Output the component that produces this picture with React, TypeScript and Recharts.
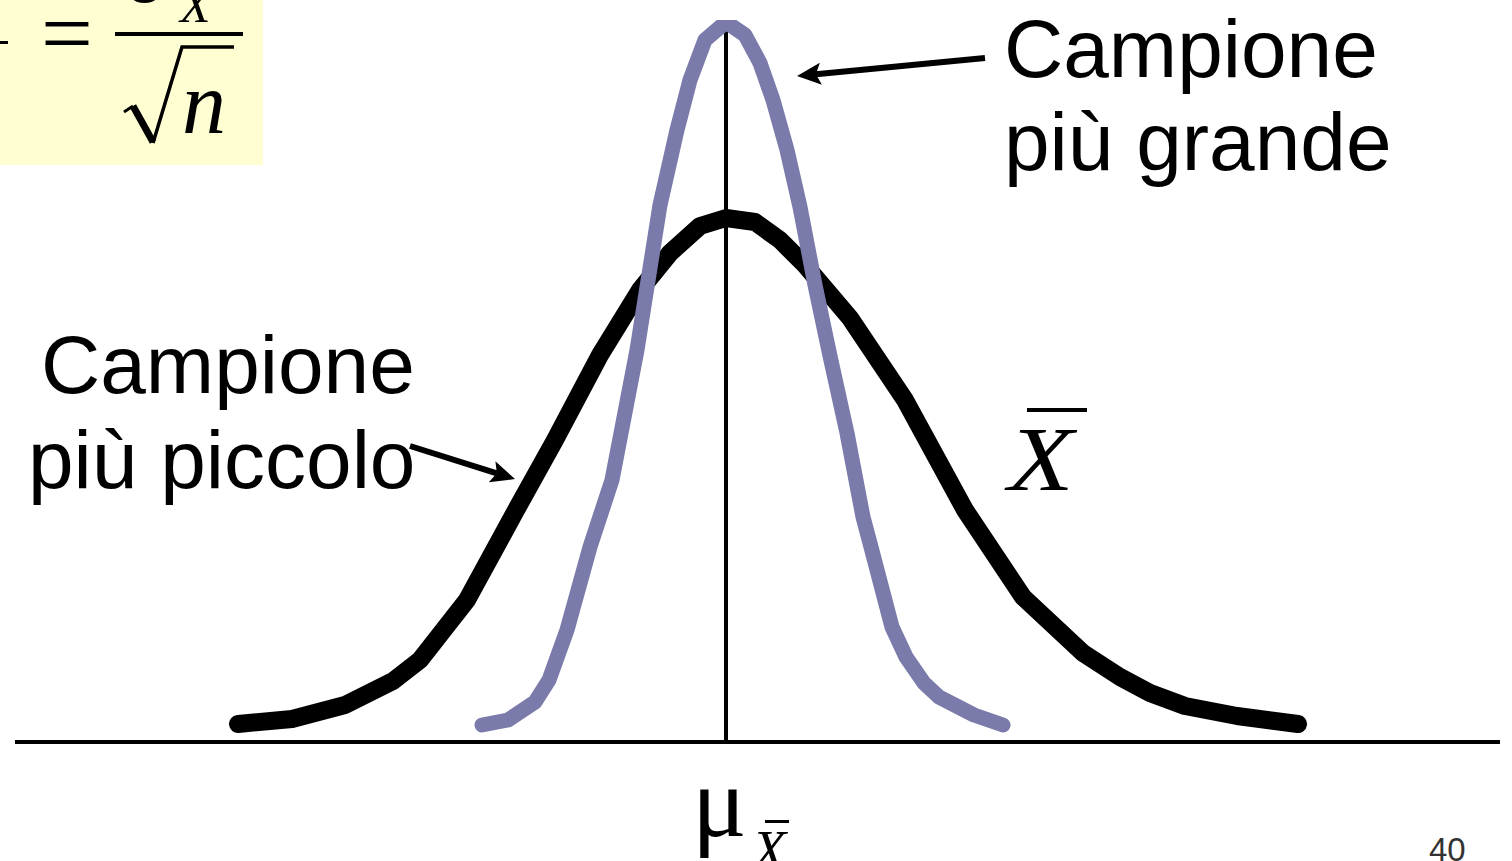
import React from 'react';
import { LineChart, Line, XAxis, YAxis, ReferenceLine, Customized } from 'recharts';

const WIDTH = 1512;
const HEIGHT = 861;

// Sampling distribution of the mean for the smaller sample (wider curve)
const smallSampleX = [
  -4.88, -4.34, -3.81, -3.33, -3.06, -2.59, -2.11, -1.71, -1.26, -0.86, -0.56, -0.26, 0,
  0.29, 0.54, 0.79, 1.24, 1.79, 2.39, 2.97, 3.57, 3.94, 4.24, 4.59, 5.11, 5.72,
];
const smallSampleY = [
  0.18, 0.23, 0.37, 0.61, 0.82, 1.42, 2.3, 3.02, 3.87, 4.52, 4.89, 5.16, 5.24,
  5.2, 5.02, 4.77, 4.24, 3.42, 2.32, 1.45, 0.89, 0.65, 0.49, 0.36, 0.26, 0.18,
];

// Sampling distribution of the mean for the larger sample (narrower curve)
const largeSampleX = [
  -2.44, -2.18, -1.91, -1.77, -1.59, -1.36, -1.14, -0.89, -0.66, -0.49, -0.36, -0.21, 0,
  0.19, 0.34, 0.47, 0.61, 0.74, 0.89, 1.04, 1.21, 1.37, 1.45, 1.66, 1.8, 1.98, 2.13, 2.48, 2.77,
];
const largeSampleY = [
  0.17, 0.22, 0.4, 0.62, 1.12, 1.95, 2.62, 3.92, 5.37, 6.12, 6.62, 7.02, 7.2,
  7.07, 6.79, 6.42, 5.92, 5.35, 4.57, 3.86, 3.09, 2.25, 1.95, 1.15, 0.85, 0.59, 0.45, 0.27, 0.17,
];

const xDomain: [number, number] = [-7.11, 7.74];
const yDomain: [number, number] = [0, 7.22];
const mean = 0;

// Callout arrows (tail -> head) in data units
const arrowLarge = [{ x: 2.59, y: 6.84 }, { x: 0.71, y: 6.66 }];
const arrowSmall = [{ x: -3.16, y: 2.96 }, { x: -2.11, y: 2.63 }];

const smallSample = smallSampleX.map((x, i) => ({ x, y: smallSampleY[i] }));
const largeSample = largeSampleX.map((x, i) => ({ x, y: largeSampleY[i] }));

const SANS = "'Liberation Sans', Arial, Helvetica, sans-serif";
const SERIF = "'Liberation Serif', 'Times New Roman', serif";

const Arrow = (props: any) => {
  const { x1, y1, x2, y2 } = props;
  const dx = x2 - x1;
  const dy = y2 - y1;
  const len = Math.hypot(dx, dy) || 1;
  const ux = dx / len;
  const uy = dy / len;
  const headLen = 24;
  const headW = 11;
  const bx = x2 - ux * headLen;
  const by = y2 - uy * headLen;
  const px = -uy;
  const py = ux;
  const notchX = x2 - ux * (headLen - 5);
  const notchY = y2 - uy * (headLen - 5);
  return (
    <g>
      <line x1={x1} y1={y1} x2={notchX} y2={notchY} stroke="#000" strokeWidth={6} />
      <polygon
        points={`${x2},${y2} ${bx + px * headW},${by + py * headW} ${notchX},${notchY} ${bx - px * headW},${by - py * headW}`}
        fill="#000"
      />
    </g>
  );
};

const Annotations = () => (
  <g>
    {/* formula box: sigma of the mean = sigma / sqrt(n) */}
    <rect x={0} y={0} width={263} height={165} fill="#FFFED3" />
    <text x={-36} y={86} fontFamily={SERIF} fontStyle="italic" fontSize={55} fill="#000">X</text>
    <rect x={-28} y={41} width={36} height={3} fill="#000" />
    <text x={41} y={64} fontFamily={SERIF} fontSize={92} fill="#000">=</text>
    <text x={122} y={2} fontFamily={SERIF} fontSize={88} fill="#000">σ</text>
    <text x={180} y={22} fontFamily={SERIF} fontStyle="italic" fontSize={50} fill="#000">X</text>
    <rect x={115} y={32} width={128} height={4} fill="#000" />
    <path d="M124,112 L133,106" stroke="#000" strokeWidth={3} fill="none" />
    <path d="M133,106 L153,142" stroke="#000" strokeWidth={7} fill="none" />
    <path d="M153,143 L182,47 L234,47" stroke="#000" strokeWidth={3.5} fill="none" />
    <text x={182} y={133} fontFamily={SERIF} fontStyle="italic" fontSize={88} fill="#000">n</text>

    {/* curve labels */}
    <text x={1004} y={77} fontFamily={SANS} fontSize={82} fill="#000">Campione</text>
    <text x={1004} y={170} fontFamily={SANS} fontSize={82} fill="#000">più grande</text>
    <text x={41} y={393} fontFamily={SANS} fontSize={82} fill="#000">Campione</text>
    <text x={28} y={488} fontFamily={SANS} fontSize={82} fill="#000">più piccolo</text>

    {/* variable name X-bar */}
    <text transform="translate(1008,490) scale(1.17,1)" x={0} y={0} fontFamily={SERIF} fontStyle="italic" fontSize={92} fill="#000">X</text>
    <rect x={1027} y={408} width={60} height={4} fill="#000" />

    {/* mean label under the axis */}
    <text x={692} y={836} fontFamily={SERIF} fontSize={102} fill="#000">μ</text>
    <text x={752} y={870} fontFamily={SERIF} fontStyle="italic" fontSize={56} fill="#000">X</text>
    <rect x={765} y={820} width={24} height={3} fill="#000" />

    {/* slide number */}
    <text x={1429} y={861} fontFamily={SANS} fontSize={33} fill="#333">40</text>
  </g>
);

export default function App() {
  return (
    <div style={{ position: 'absolute', left: 0, top: 0, width: WIDTH, height: HEIGHT, background: '#fff' }}>
      <LineChart width={WIDTH} height={HEIGHT} margin={{ top: 20, right: 12, bottom: 119, left: 15 }}>
        <XAxis type="number" dataKey="x" domain={xDomain} allowDataOverflow hide />
        <YAxis type="number" dataKey="y" domain={yDomain} allowDataOverflow hide />
        <Customized component={Annotations} />
        <ReferenceLine x={mean} stroke="#000" strokeWidth={4} />
        <ReferenceLine y={0} stroke="#000" strokeWidth={4} />
        <Line
          data={smallSample}
          dataKey="y"
          type="linear"
          stroke="#000"
          strokeWidth={18}
          strokeLinecap="round"
          strokeLinejoin="round"
          dot={false}
          activeDot={false}
          isAnimationActive={false}
        />
        <Line
          data={largeSample}
          dataKey="y"
          type="linear"
          stroke="#7A7BAB"
          strokeWidth={15}
          strokeLinecap="round"
          strokeLinejoin="round"
          dot={false}
          activeDot={false}
          isAnimationActive={false}
        />
        <ReferenceLine segment={arrowLarge} shape={Arrow} />
        <ReferenceLine segment={arrowSmall} shape={Arrow} />
      </LineChart>
    </div>
  );
}
